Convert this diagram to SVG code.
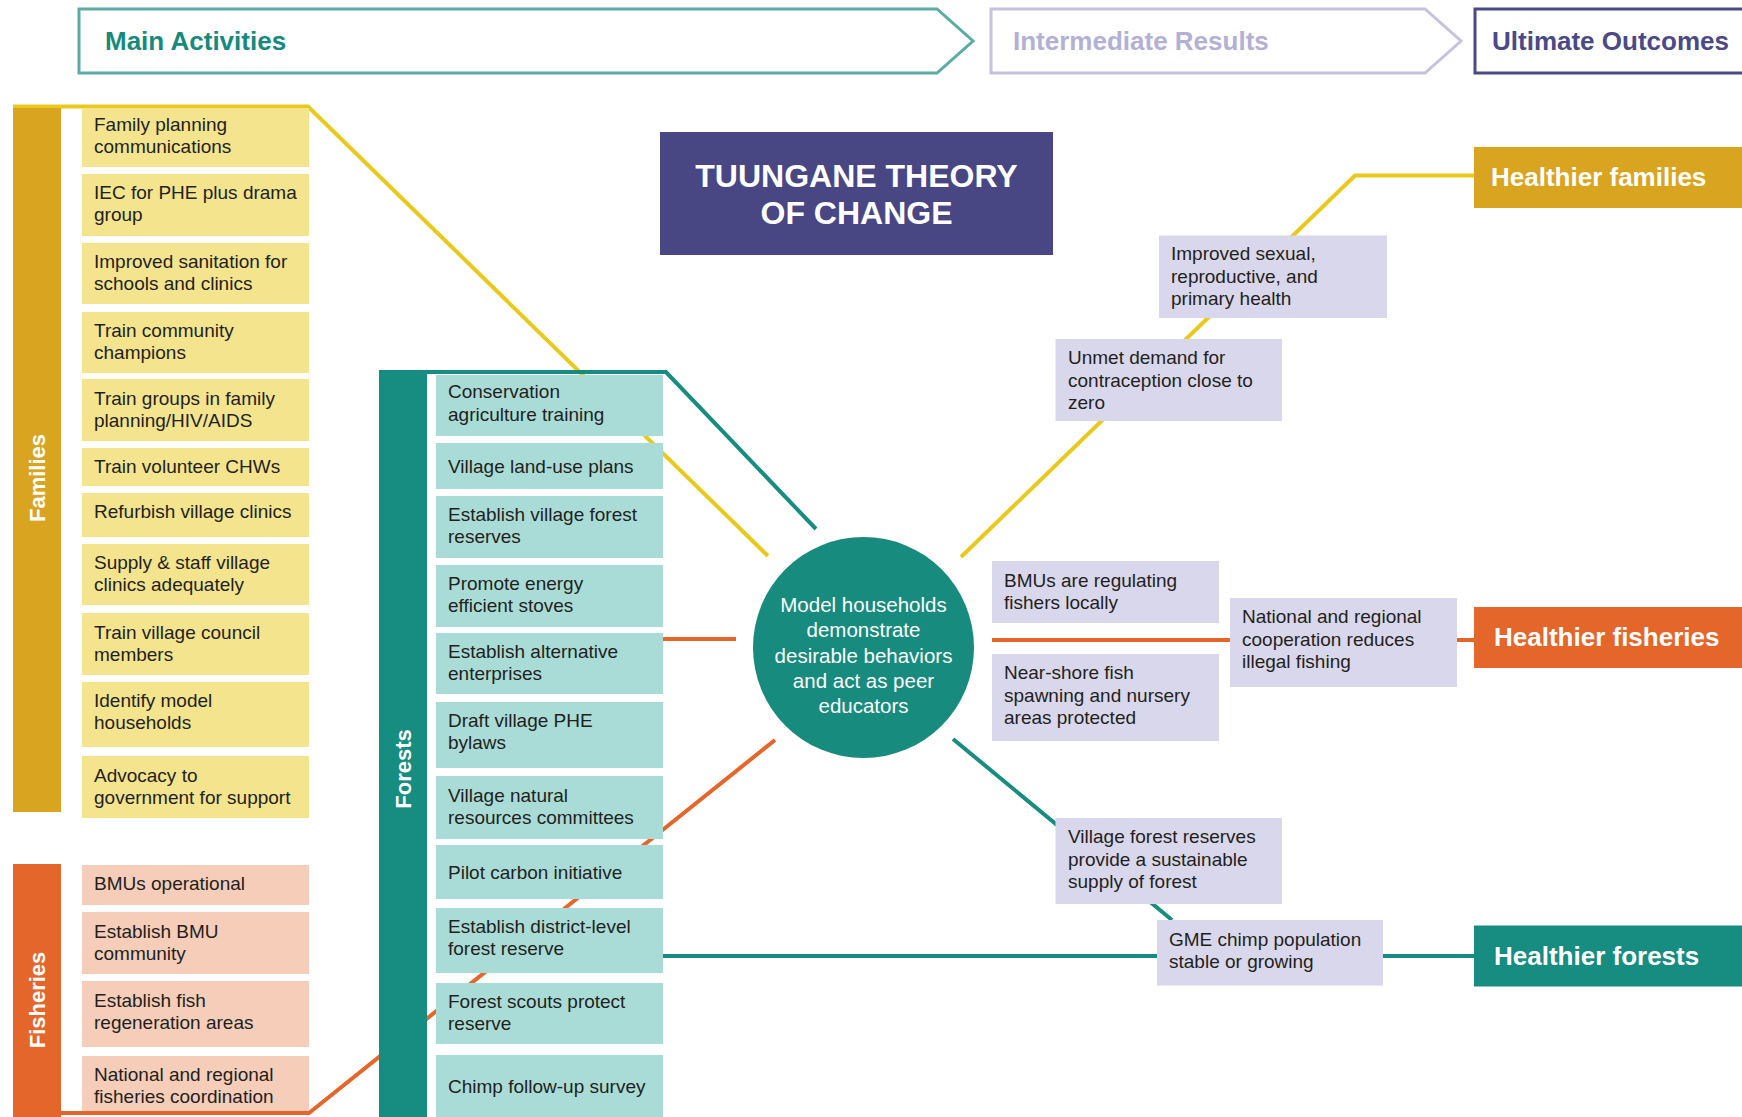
<svg xmlns="http://www.w3.org/2000/svg" width="1742" height="1117" viewBox="0 0 1742 1117">
<style>
.t{font-family:"Liberation Sans",Arial,sans-serif;font-size:19px;fill:#231f20}
.hd{font-family:"Liberation Sans",Arial,sans-serif;font-size:26px;font-weight:bold}
.out{font-family:"Liberation Sans",Arial,sans-serif;font-size:26px;font-weight:bold;fill:#fff}
.vl{font-family:"Liberation Sans",Arial,sans-serif;font-size:22px;font-weight:bold;fill:#fff;text-anchor:middle;dominant-baseline:central}
.ct{font-family:"Liberation Sans",Arial,sans-serif;font-size:20.5px;fill:#fff;text-anchor:middle}
.ti{font-family:"Liberation Sans",Arial,sans-serif;font-size:32px;font-weight:bold;fill:#fff;text-anchor:middle}
.fy{fill:#f3e48d}.fo{fill:#f5cdb8}.ft{fill:#a9dcd6}.lv{fill:#d9d7eb}
.ly{stroke:#e9c91c;stroke-width:4;fill:none}
.lo{stroke:#e5662a;stroke-width:4;fill:none}
.lt{stroke:#178c80;stroke-width:4;fill:none}
</style>

<g id="header">
  <g id="hdr-main">
    <polygon points="79,9 937,9 973,41 937,73 79,73" fill="#fff" stroke="#5aaca4" stroke-width="3"/>
    <text class="hd" x="105" y="50" fill="#178a7c">Main Activities</text>
  </g>
  <g id="hdr-inter">
    <polygon points="991,9 1425,9 1461,41 1425,73 991,73" fill="#fff" stroke="#c5c2df" stroke-width="3"/>
    <text class="hd" x="1013" y="50" fill="#b3b0d5">Intermediate Results</text>
  </g>
  <g id="hdr-ult">
    <rect x="1475" y="9" width="280" height="64" fill="#fff" stroke="#4a4a86" stroke-width="3"/>
    <text class="hd" x="1492" y="50" fill="#4a4a86">Ultimate Outcomes</text>
  </g>
</g>

<g id="connectors">
  <polyline class="ly" points="13,106.5 308,106.5 768,556"/>
  <polyline class="lt" points="379,372 666,372 816,529"/>
  <polyline class="lo" points="13,1113 309,1113 775,740"/>
  <line class="lo" x1="663" y1="639" x2="736" y2="639"/>
  <polyline class="ly" points="961,557 1355,175.5 1474,175.5"/>
  <line class="lo" x1="992" y1="640" x2="1474" y2="640"/>
  <line class="lt" x1="953" y1="739" x2="1172" y2="920"/>
  <line class="lt" x1="663" y1="956" x2="1474" y2="956"/>
</g>

<g id="families">
  <rect x="13" y="108" width="48" height="704" fill="#d9a521"/>
  <text class="vl" transform="translate(37,478) rotate(-90)">Families</text>
</g>
<g id="fam-1"><rect class="fy" x="82" y="108" width="227" height="59"/><text class="t" x="94" y="131">Family planning</text><text class="t" x="94" y="153">communications</text></g>
<g id="fam-2"><rect class="fy" x="82" y="174" width="227" height="62"/><text class="t" x="94" y="199">IEC for PHE plus drama</text><text class="t" x="94" y="221">group</text></g>
<g id="fam-3"><rect class="fy" x="82" y="243" width="227" height="61"/><text class="t" x="94" y="268">Improved sanitation for</text><text class="t" x="94" y="290">schools and clinics</text></g>
<g id="fam-4"><rect class="fy" x="82" y="312" width="227" height="61"/><text class="t" x="94" y="337">Train community</text><text class="t" x="94" y="359">champions</text></g>
<g id="fam-5"><rect class="fy" x="82" y="379" width="227" height="62"/><text class="t" x="94" y="405">Train groups in family</text><text class="t" x="94" y="427">planning/HIV/AIDS</text></g>
<g id="fam-6"><rect class="fy" x="82" y="448" width="227" height="38"/><text class="t" x="94" y="473">Train volunteer CHWs</text></g>
<g id="fam-7"><rect class="fy" x="82" y="493" width="227" height="44"/><text class="t" x="94" y="518">Refurbish village clinics</text></g>
<g id="fam-8"><rect class="fy" x="82" y="544" width="227" height="61"/><text class="t" x="94" y="569">Supply &amp; staff village</text><text class="t" x="94" y="591">clinics adequately</text></g>
<g id="fam-9"><rect class="fy" x="82" y="613" width="227" height="62"/><text class="t" x="94" y="639">Train village council</text><text class="t" x="94" y="661">members</text></g>
<g id="fam-10"><rect class="fy" x="82" y="682" width="227" height="65"/><text class="t" x="94" y="707">Identify model</text><text class="t" x="94" y="729">households</text></g>
<g id="fam-11"><rect class="fy" x="82" y="756" width="227" height="62"/><text class="t" x="94" y="782">Advocacy to</text><text class="t" x="94" y="804">government for support</text></g>

<g id="fisheries">
  <rect x="13" y="864" width="48" height="253" fill="#e5662a"/>
  <text class="vl" transform="translate(37,1000) rotate(-90)">Fisheries</text>
</g>
<g id="fish-1"><rect class="fo" x="82" y="865" width="227" height="40"/><text class="t" x="94" y="890">BMUs operational</text></g>
<g id="fish-2"><rect class="fo" x="82" y="912" width="227" height="62"/><text class="t" x="94" y="938">Establish BMU</text><text class="t" x="94" y="960">community</text></g>
<g id="fish-3"><rect class="fo" x="82" y="981" width="227" height="66"/><text class="t" x="94" y="1007">Establish fish</text><text class="t" x="94" y="1029">regeneration areas</text></g>
<g id="fish-4"><rect class="fo" x="82" y="1056" width="227" height="55"/><text class="t" x="94" y="1081">National and regional</text><text class="t" x="94" y="1103">fisheries coordination</text></g>

<g id="forests">
  <rect x="379" y="374" width="48" height="743" fill="#178c80"/>
  <text class="vl" transform="translate(403,769) rotate(-90)">Forests</text>
</g>
<g id="for-1"><rect class="ft" x="436" y="375" width="227" height="61"/><text class="t" x="448" y="398">Conservation</text><text class="t" x="448" y="421">agriculture training</text></g>
<g id="for-2"><rect class="ft" x="436" y="443" width="227" height="46"/><text class="t" x="448" y="473">Village land-use plans</text></g>
<g id="for-3"><rect class="ft" x="436" y="496" width="227" height="62"/><text class="t" x="448" y="521">Establish village forest</text><text class="t" x="448" y="543">reserves</text></g>
<g id="for-4"><rect class="ft" x="436" y="565" width="227" height="62"/><text class="t" x="448" y="590">Promote energy</text><text class="t" x="448" y="612">efficient stoves</text></g>
<g id="for-5"><rect class="ft" x="436" y="633" width="227" height="61"/><text class="t" x="448" y="658">Establish alternative</text><text class="t" x="448" y="680">enterprises</text></g>
<g id="for-6"><rect class="ft" x="436" y="702" width="227" height="66"/><text class="t" x="448" y="727">Draft village PHE</text><text class="t" x="448" y="749">bylaws</text></g>
<g id="for-7"><rect class="ft" x="436" y="776" width="227" height="63"/><text class="t" x="448" y="802">Village natural</text><text class="t" x="448" y="824">resources committees</text></g>
<g id="for-8"><rect class="ft" x="436" y="845" width="227" height="54"/><text class="t" x="448" y="879">Pilot carbon initiative</text></g>
<g id="for-9"><rect class="ft" x="436" y="908" width="227" height="65"/><text class="t" x="448" y="933">Establish district-level</text><text class="t" x="448" y="955">forest reserve</text></g>
<g id="for-10"><rect class="ft" x="436" y="983" width="227" height="61"/><text class="t" x="448" y="1008">Forest scouts protect</text><text class="t" x="448" y="1030">reserve</text></g>
<g id="for-11"><rect class="ft" x="436" y="1055" width="227" height="62"/><text class="t" x="448" y="1093">Chimp follow-up survey</text></g>

<g id="title">
  <rect x="660" y="132" width="393" height="123" fill="#484683"/>
  <text class="ti" x="856.5" y="187">TUUNGANE THEORY</text>
  <text class="ti" x="856.5" y="224">OF CHANGE</text>
</g>

<g id="center">
  <circle cx="863.5" cy="647.5" r="110.5" fill="#168b7e"/>
  <text class="ct" x="863.5" y="612">Model households</text>
  <text class="ct" x="863.5" y="637">demonstrate</text>
  <text class="ct" x="863.5" y="663">desirable behaviors</text>
  <text class="ct" x="863.5" y="688">and act as peer</text>
  <text class="ct" x="863.5" y="713">educators</text>
</g>

<g id="ir-health"><rect class="lv" x="1159" y="235.5" width="228" height="82.5"/><text class="t" x="1171" y="260">Improved sexual,</text><text class="t" x="1171" y="283">reproductive, and</text><text class="t" x="1171" y="305">primary health</text></g>
<g id="ir-unmet"><rect class="lv" x="1055.5" y="339" width="226.5" height="82"/><text class="t" x="1068" y="364">Unmet demand for</text><text class="t" x="1068" y="387">contraception close to</text><text class="t" x="1068" y="409">zero</text></g>
<g id="ir-bmu"><rect class="lv" x="992" y="561" width="227" height="62"/><text class="t" x="1004" y="587">BMUs are regulating</text><text class="t" x="1004" y="609">fishers locally</text></g>
<g id="ir-nearshore"><rect class="lv" x="992" y="654" width="227" height="87"/><text class="t" x="1004" y="679">Near-shore fish</text><text class="t" x="1004" y="702">spawning and nursery</text><text class="t" x="1004" y="724">areas protected</text></g>
<g id="ir-national"><rect class="lv" x="1230" y="598" width="227" height="89"/><text class="t" x="1242" y="623">National and regional</text><text class="t" x="1242" y="646">cooperation reduces</text><text class="t" x="1242" y="668">illegal fishing</text></g>
<g id="ir-vfr"><rect class="lv" x="1055.5" y="818" width="226.5" height="86"/><text class="t" x="1068" y="843">Village forest reserves</text><text class="t" x="1068" y="866">provide a sustainable</text><text class="t" x="1068" y="888">supply of forest</text></g>
<g id="ir-gme"><rect class="lv" x="1157" y="920" width="226" height="65.5"/><text class="t" x="1169" y="946">GME chimp population</text><text class="t" x="1169" y="968">stable or growing</text></g>

<g id="out-families"><rect x="1474" y="147" width="268" height="61" fill="#d9a521"/><text class="out" x="1491" y="186">Healthier families</text></g>
<g id="out-fisheries"><rect x="1474" y="607" width="268" height="61" fill="#e5662a"/><text class="out" x="1494" y="646">Healthier fisheries</text></g>
<g id="out-forests"><rect x="1474" y="925.5" width="268" height="61" fill="#178c80"/><text class="out" x="1494" y="965">Healthier forests</text></g>
</svg>
